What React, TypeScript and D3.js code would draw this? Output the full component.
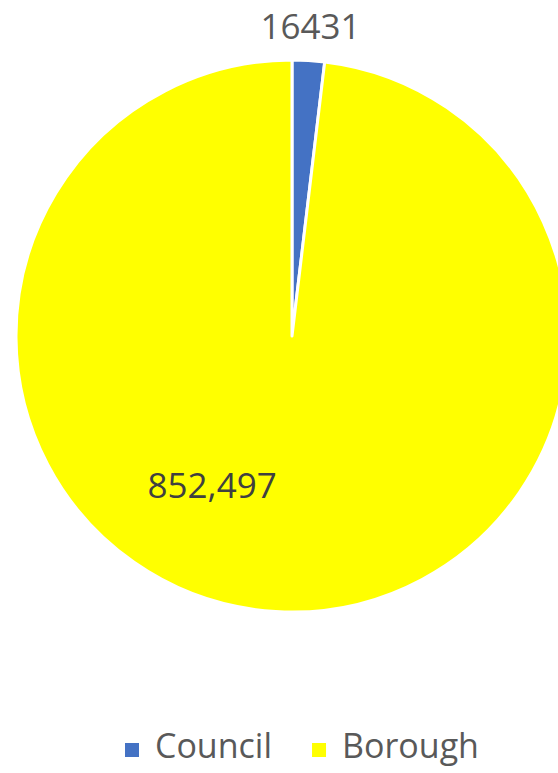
import { useEffect, useRef } from "react";
import * as d3 from "d3";

const categories = ["Council", "Borough"];
const values = [16431, 852497];
const labelTexts = ["16431", "852,497"];
const colors = ["#4472C4", "#FFFF00"];

export default function App() {
  const svgRef = useRef<SVGSVGElement>(null);

  useEffect(() => {
    if (!svgRef.current) return;
    document.body.style.margin = "0";
    const width = 558;
    const height = 773;
    const radius = 276;
    const cx = 292;
    const cy = 336;
    const font = "'Open Sans', 'Segoe UI', sans-serif";
    const textColor = "#595959";

    const svg = d3.select(svgRef.current);
    svg.selectAll("*").remove();
    svg.attr("width", width).attr("height", height);

    const g = svg.append("g").attr("transform", `translate(${cx},${cy})`);

    const pie = d3.pie<number>().sort(null).value(d => d);
    const arcs = pie(values);
    const arc = d3.arc<d3.PieArcDatum<number>>().innerRadius(0).outerRadius(radius);

    g.selectAll("path.slice")
      .data(arcs)
      .enter()
      .append("path")
      .attr("class", "slice")
      .attr("d", arc)
      .attr("fill", (_, i) => colors[i])
      .attr("stroke", "#fff")
      .attr("stroke-width", 3)
      .attr("stroke-linejoin", "round");

    // data labels: small slice outside, big slice inside (best fit)
    const polar = (angle: number, r: number) => [Math.sin(angle) * r, -Math.cos(angle) * r];
    g.selectAll("text.lbl")
      .data(arcs)
      .enter()
      .append("text")
      .attr("class", "lbl")
      .attr("transform", (d, i) => {
        const mid = (d.startAngle + d.endAngle) / 2;
        const [x, y] = i === 0 ? polar(mid, radius + 35) : polar(mid + 0.433, radius * 0.612);
        return `translate(${x},${y})`;
      })
      .attr("text-anchor", "middle")
      .attr("dominant-baseline", "central")
      .attr("font-family", font)
      .attr("font-size", 35)
      .attr("fill", (_, i) => (i === 0 ? textColor : "#404040"))
      .text((_, i) => labelTexts[i]);

    // legend
    const legend = svg.append("g").attr("transform", `translate(125,750)`);
    const items = legend.selectAll("g.item")
      .data(categories)
      .enter()
      .append("g")
      .attr("class", "item");
    items.append("rect")
      .attr("width", 14)
      .attr("height", 14)
      .attr("y", -7)
      .attr("fill", (_, i) => colors[i]);
    items.append("text")
      .attr("x", 30)
      .attr("y", 8)
      .attr("font-family", font)
      .attr("font-size", 34)
      .attr("fill", textColor)
      .text(d => d);

    // lay out legend items left to right
    const gap = 40;
    const widths: number[] = [];
    items.each(function () {
      widths.push((this as SVGGElement).getBBox().width);
    });
    let x = 0;
    items.attr("transform", (_, i) => {
      const t = `translate(${x},0)`;
      x += widths[i] + gap;
      return t;
    });
  }, []);

  return <svg ref={svgRef} style={{ display: "block" }}></svg>;
}
